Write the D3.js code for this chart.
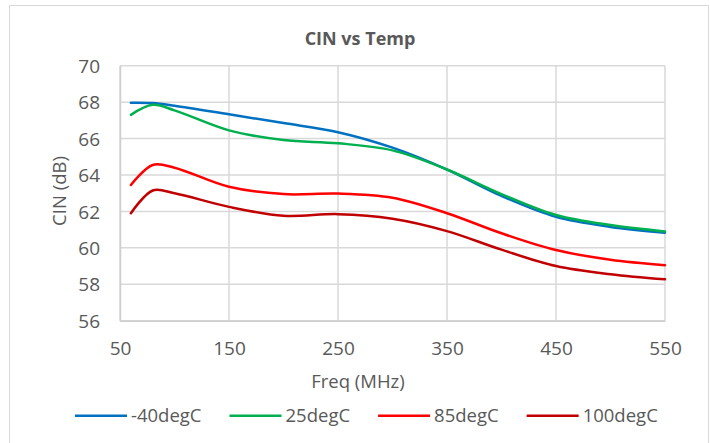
<!DOCTYPE html>
<html><head><meta charset="utf-8">
<script src="https://cdn.jsdelivr.net/npm/d3@7"></script>
<style>body{margin:0;background:#fff}svg{display:block}text{font-family:"Open Sans",sans-serif;fill:#595959}</style>
</head><body><svg id="c" width="710" height="443"></svg>
<script>
const freqs = [60, 80, 100, 150, 200, 250, 300, 350, 400, 450, 500, 550];
const seriesNames = ["-40degC", "25degC", "85degC", "100degC"];
const seriesColors = ["#0070C0", "#00B050", "#FF0000", "#C00000"];
const cinM40 = [67.97, 67.95, 67.8, 67.33, 66.85, 66.35, 65.5, 64.3, 62.85, 61.7, 61.15, 60.83];
const cin25 = [67.3, 67.85, 67.55, 66.45, 65.92, 65.74, 65.35, 64.3, 62.95, 61.8, 61.25, 60.9];
const cin85 = [63.45, 64.55, 64.4, 63.35, 62.95, 62.98, 62.75, 61.9, 60.8, 59.88, 59.35, 59.05];
const cin100 = [61.9, 63.15, 63.0, 62.25, 61.76, 61.85, 61.6, 60.92, 59.9, 59.0, 58.55, 58.27];
const xTicks = [50, 150, 250, 350, 450, 550];
const yTicks = [56, 58, 60, 62, 64, 66, 68, 70];
const seriesValues = [cinM40, cin25, cin85, cin100];

const svg = d3.select("#c");
svg.append("rect").attr("x", 9.5).attr("y", 5.5).attr("width", 699).attr("height", 450)
  .attr("fill", "#fff").attr("stroke", "#d9d9d9").attr("stroke-width", 1);

const x = d3.scaleLinear().domain([50, 550]).range([120, 665]);
const y = d3.scaleLinear().domain([56, 70]).range([320.7, 65.7]);

// gridlines
const g = svg.append("g");
g.selectAll("line.h").data(yTicks).join("line")
  .attr("x1", x(50)).attr("x2", x(550)).attr("y1", d => y(d)).attr("y2", d => y(d))
  .attr("stroke", "#d9d9d9").attr("stroke-width", 1.5);
g.selectAll("line.v").data(xTicks).join("line")
  .attr("y1", y(56)).attr("y2", y(70)).attr("x1", d => x(d)).attr("x2", d => x(d))
  .attr("stroke", "#d9d9d9").attr("stroke-width", 1.5);

// axes
const xa = svg.append("g").attr("transform", `translate(0,${y(56)})`)
  .call(d3.axisBottom(x).tickValues(xTicks).tickSize(0).tickPadding(0));
xa.select(".domain").attr("stroke", "#cfcfcf").attr("stroke-width", 1.5);
xa.selectAll("text").attr("y", 34).attr("dy", null).style("font-size", "19px").attr("fill", "#595959");

const ya = svg.append("g").attr("transform", `translate(${x(50)},0)`)
  .call(d3.axisLeft(y).tickValues(yTicks).tickSize(0).tickPadding(0));
ya.select(".domain").attr("stroke", "#cfcfcf").attr("stroke-width", 1.5);
ya.selectAll("text").attr("x", -20).attr("dy", "0.35em").style("font-size", "19px").attr("fill", "#595959");

// lines
const line = d3.line().x((d, i) => x(freqs[i])).y(d => y(d)).curve(d3.curveCatmullRom.alpha(0.5));
svg.append("g").selectAll("path").data(seriesValues).join("path")
  .attr("d", d => line(d)).attr("fill", "none")
  .attr("stroke", (d, i) => seriesColors[i]).attr("stroke-width", 2.5).attr("stroke-linecap", "round");

// titles
svg.append("text").attr("x", 360).attr("y", 45).attr("text-anchor", "middle")
  .style("font-size", "18px").style("font-weight", "bold").text("CIN vs Temp");
svg.append("text").attr("x", 358).attr("y", 388).attr("text-anchor", "middle")
  .style("font-size", "18.5px").text("Freq (MHz)");
svg.append("text").attr("transform", "translate(66,191) rotate(-90)").attr("text-anchor", "middle")
  .style("font-size", "18.5px").text("CIN (dB)");

// legend
const leg = svg.append("g");
let lx = 75;
seriesNames.forEach((n, i) => {
  leg.append("line").attr("x1", lx).attr("x2", lx + 52).attr("y1", 415.7).attr("y2", 415.7)
    .attr("stroke", seriesColors[i]).attr("stroke-width", 2.5);
  const t = leg.append("text").attr("x", lx + 56).attr("y", 422).style("font-size", "18.5px").text(n);
  lx += 56 + t.node().getComputedTextLength() + 28;
});
</script></body></html>
